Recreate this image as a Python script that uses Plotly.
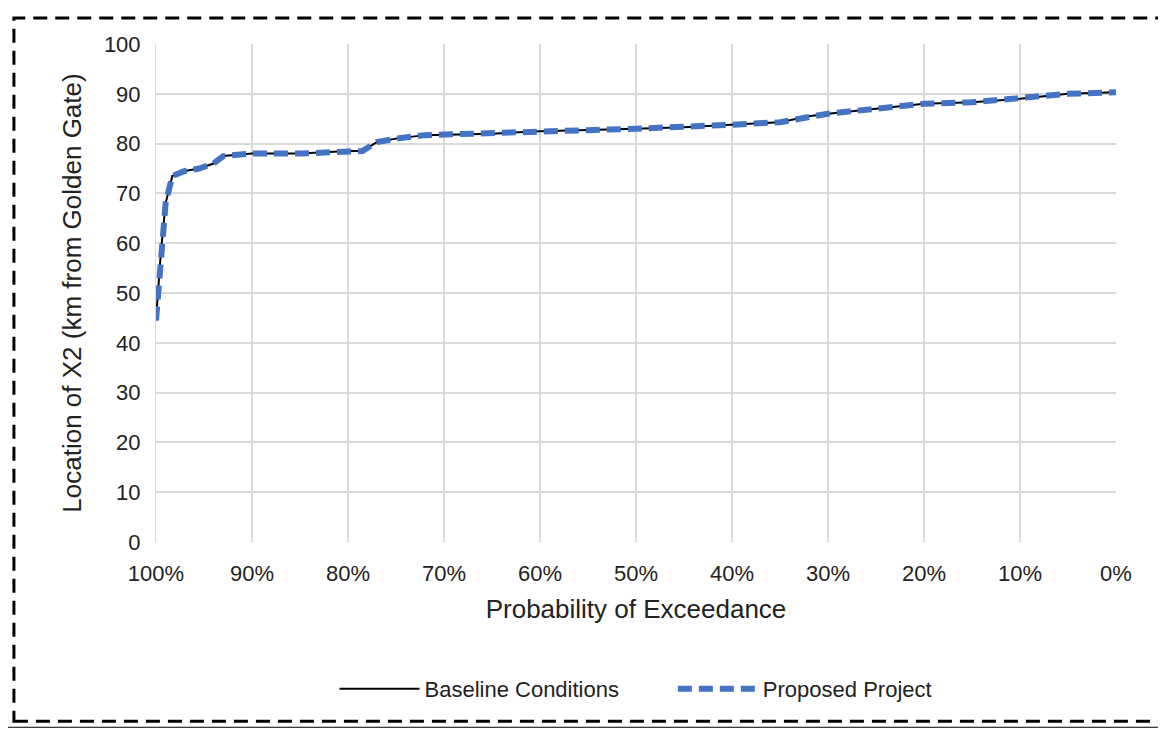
import plotly.graph_objects as go

prob = [100, 99.5, 99, 98.3, 97, 95.5, 94, 93, 90, 85, 80, 78.5, 77, 75, 72, 65, 60, 55, 50, 45, 40, 35, 32, 30, 25, 20, 15, 10, 5, 0]
baseline = [44.5, 58, 68, 73.5, 74.5, 75, 76, 77.5, 78, 78, 78.5, 78.5, 80.3, 81, 81.7, 82, 82.5, 82.7, 83, 83.3, 83.8, 84.3, 85.5, 86, 87, 88, 88.3, 89, 90, 90.3]
proposed = list(baseline)

fig = go.Figure()
fig.add_trace(go.Scatter(x=prob, y=baseline, mode="lines", name="Baseline Conditions        ",
                         line=dict(color="black", width=2)))
fig.add_trace(go.Scatter(x=prob, y=proposed, mode="lines", name="Proposed Project",
                         line=dict(color="#4472C4", width=6, dash="14px,7px")))

W, H = 1158, 722
fig.update_layout(
    width=W, height=H, paper_bgcolor="white", plot_bgcolor="white",
    margin=dict(l=148, r=50, t=36, b=188),
    font=dict(family="Liberation Sans, Arial", size=22, color="#222"),
    legend=dict(orientation="h", x=0.5, xanchor="center", y=-0.295, yanchor="middle",
                font=dict(size=22), itemwidth=80),
    xaxis=dict(range=[100, 0], tickvals=list(range(100, -1, -10)),
               ticktext=[f"{v}%" for v in range(100, -1, -10)],
               showgrid=True, gridcolor="#d9d9d9", gridwidth=1.5, zeroline=False,
               ticks="outside", ticklen=12, tickcolor="rgba(0,0,0,0)",
               title=dict(text="Probability of Exceedance", standoff=14)),
    yaxis=dict(range=[0, 100], dtick=10, showgrid=True, gridcolor="#d9d9d9", gridwidth=1.5,
               zeroline=False, showline=True, linecolor="#d9d9d9",
               ticks="outside", ticklen=10, tickcolor="rgba(0,0,0,0)",
               title=dict(text="Location of X2 (km from Golden Gate)", standoff=14)),
    shapes=[dict(type="rect", xref="paper", yref="paper", x0=-0.148, x1=1.05, y0=-0.36, y1=1.052,
                 line=dict(color="black", width=3, dash="14px,8px"))],
)
fig.add_shape(type="line", xref="paper", yref="paper", x0=-0.16, x1=1.06, y0=-0.372, y1=-0.372,
              line=dict(color="black", width=1))
fig.write_html("out.html")
